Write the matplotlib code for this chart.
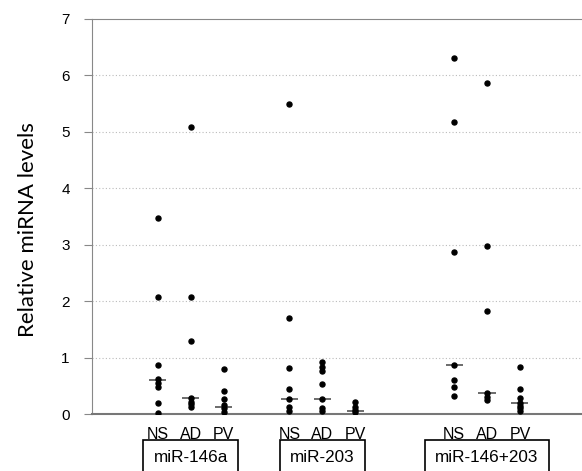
import numpy as np
import matplotlib
matplotlib.use("Agg")
import matplotlib.pyplot as plt
from matplotlib.patches import Rectangle

plt.rcParams['font.family'] = ['Liberation Sans', 'DejaVu Sans']

# groups and sample labels
groups = ['miR-146a', 'miR-203', 'miR-146+203']
samples = ['NS', 'AD', 'PV']
positions = [[1, 2, 3], [5, 6, 7], [10, 11, 12]]

# individual values
mir146a_ns = [3.47, 2.07, 0.86, 0.62, 0.55, 0.48, 0.20, 0.02]
mir146a_ad = [5.08, 2.08, 1.30, 0.28, 0.22, 0.17, 0.12]
mir146a_pv = [0.79, 0.40, 0.26, 0.16, 0.10, 0.04]
mir203_ns = [5.49, 1.70, 0.81, 0.44, 0.27, 0.12, 0.05]
mir203_ad = [0.92, 0.84, 0.76, 0.53, 0.26, 0.10, 0.05]
mir203_pv = [0.22, 0.12, 0.07, 0.04]
combo_ns = [6.31, 5.17, 2.87, 0.87, 0.60, 0.47, 0.32]
combo_ad = [5.87, 2.98, 1.83, 0.38, 0.30, 0.25]
combo_pv = [0.83, 0.44, 0.29, 0.20, 0.14, 0.10, 0.05]

medians = [[0.60, 0.29, 0.12], [0.27, 0.26, 0.06], [0.87, 0.38, 0.19]]

values = [[mir146a_ns, mir146a_ad, mir146a_pv],
          [mir203_ns, mir203_ad, mir203_pv],
          [combo_ns, combo_ad, combo_pv]]

fig = plt.figure(figsize=(5.82, 4.71), dpi=100)
ax = fig.add_axes([0.158, 0.121, 0.84, 0.839])

for g in range(3):
    for s in range(3):
        x = positions[g][s]
        v = values[g][s]
        ax.plot([x] * len(v), v, 'o', color='black', ms=3.6, zorder=3)
        ax.hlines(medians[g][s], x - 0.26, x + 0.26, color='#444444', lw=1.1, zorder=2)

ax.set_xlim(-1, 13.85)
ax.set_ylim(0, 7)
ax.set_yticks(range(8))
ax.set_xticks([])
for yv in range(1, 7):
    ax.axhline(yv, color='#bbbbbb', lw=0.8, ls=(0, (1, 2)), zorder=1)

ax.spines['right'].set_visible(False)
ax.spines['top'].set_color('#888888')
ax.spines['left'].set_color('#888888')
ax.spines['bottom'].set_color('#777777')
ax.spines['bottom'].set_linewidth(1.5)
ax.tick_params(axis='y', length=6, width=0.8, color='#888888', labelsize=11, pad=10)
ax.set_ylabel('Relative miRNA levels', fontsize=16, family=['Lato', 'DejaVu Sans'])
ax.yaxis.label.set_va('center')
ax.yaxis.set_label_coords(-0.131, 0.468)

trans = ax.get_xaxis_transform()
group_texts = []
for g in range(3):
    for s in range(3):
        ax.text(positions[g][s], -0.032, samples[s], transform=trans,
                ha='center', va='top', fontsize=11.5)
    group_texts.append(ax.text(positions[g][1], -0.11, groups[g], transform=trans,
                               ha='center', va='center', fontsize=12.3))

# boxes round the group names
fig.canvas.draw()
r = fig.canvas.get_renderer()
inv = ax.transData.inverted()
for txt in group_texts:
    bb = txt.get_window_extent(r)
    x0 = inv.transform((bb.x0 - 10.5, 0))[0]
    x1 = inv.transform((bb.x1 + 10.5, 0))[0]
    ax.add_patch(Rectangle((x0, -0.2), x1 - x0, 0.134, transform=trans,
                           fill=False, ec='black', lw=1.2, clip_on=False))

fig.savefig('out.png', dpi=100)
